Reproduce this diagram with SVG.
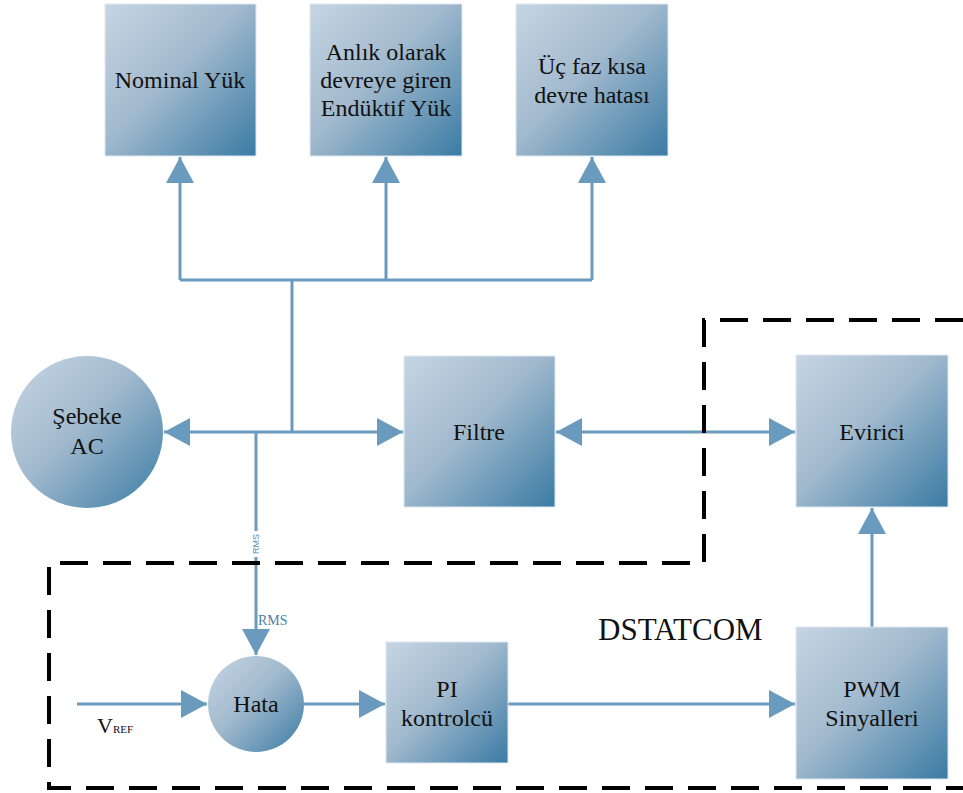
<svg xmlns="http://www.w3.org/2000/svg" width="963" height="793" viewBox="0 0 963 793">
<defs>
<linearGradient id="g" x1="0" y1="0" x2="1" y2="1">
<stop offset="0" stop-color="#c6d5e3"/>
<stop offset="0.45" stop-color="#a2bace"/>
<stop offset="1" stop-color="#3a7ba4"/>
</linearGradient>
<marker id="ah" markerUnits="userSpaceOnUse" markerWidth="27" markerHeight="30" refX="26" refY="15" orient="auto-start-reverse" viewBox="0 0 27 30">
<path d="M0,1 L26,15 L0,29 z" fill="#6a9bbe"/>
</marker>
<style>
.box{fill:url(#g);stroke:#dfe8f0;stroke-width:1}
.t{font-family:Liberation Serif, DejaVu Serif, serif;font-size:24px;fill:#111;text-anchor:middle}
.c{fill:none;stroke:#6a9bbe;stroke-width:3}
.a{marker-end:url(#ah)}
.d{fill:none;stroke:#000;stroke-width:4;stroke-dasharray:28 15}
</style>
</defs>
<g id="connectors">
<path class="c" d="M180,280 H592"/>
<path class="c a" d="M180,280 V157"/>
<path class="c a" d="M386,280 V157"/>
<path class="c a" d="M592,280 V157"/>
<path class="c" d="M292,280 V432"/>
<path class="c a" d="M292,432 H164"/>
<path class="c a" d="M292,432 H403"/>
<path class="c a" d="M256,432 V655"/>
<path class="c a" style="marker-start:url(#ah)" d="M556,432 H795"/>
<path class="c a" d="M77,704 H207"/>
<path class="c a" d="M304,704 H385"/>
<path class="c a" d="M508,704 H795"/>
<path class="c a" d="M872,627 V508"/>
</g>
<g id="boundary">
<path class="d" d="M963,320 H704 V563 H49 V788 H963"/>
</g>
<g id="rms-labels">
<rect x="250" y="531" width="12" height="26" fill="#fff"/>
<text x="0" y="0" transform="translate(259,544) rotate(-90)" font-family="Liberation Sans, DejaVu Sans, sans-serif" font-size="9" fill="#5b8db3" text-anchor="middle">RMS</text>
<text x="258" y="625" font-family="Liberation Serif, DejaVu Serif, serif" font-size="14" fill="#4a7fa8">RMS</text>
</g>
<g id="nominal">
<rect class="box" x="105" y="4" width="151" height="152"/>
<text class="t" x="180" y="88" font-family="Liberation Serif, serif">Nominal Yük</text>
</g>
<g id="anlik">
<rect class="box" x="310" y="4" width="152" height="152"/>
<text class="t" x="386" y="60" font-family="Liberation Serif, serif">Anlık olarak</text>
<text class="t" x="386" y="88" font-family="Liberation Serif, serif">devreye giren</text>
<text class="t" x="386" y="116" font-family="Liberation Serif, serif">Endüktif Yük</text>
</g>
<g id="ucfaz">
<rect class="box" x="516" y="4" width="152" height="152"/>
<text class="t" x="592" y="74" font-family="Liberation Serif, serif">Üç faz kısa</text>
<text class="t" x="592" y="103" font-family="Liberation Serif, serif">devre hatası</text>
</g>
<g id="sebeke">
<circle cx="87" cy="432" r="76" fill="url(#g)"/>
<text class="t" x="87" y="424" font-family="Liberation Serif, serif">Şebeke</text>
<text class="t" x="87" y="454" font-family="Liberation Serif, serif">AC</text>
</g>
<g id="filtre">
<rect class="box" x="404" y="356" width="151" height="151"/>
<text class="t" x="479" y="440" font-family="Liberation Serif, serif">Filtre</text>
</g>
<g id="evirici">
<rect class="box" x="796" y="355" width="152" height="152"/>
<text class="t" x="872" y="440" font-family="Liberation Serif, serif">Evirici</text>
</g>
<g id="hata">
<circle cx="256" cy="704" r="48" fill="url(#g)"/>
<text class="t" x="256" y="712" font-family="Liberation Serif, serif">Hata</text>
</g>
<g id="pi">
<rect class="box" x="386" y="642" width="122" height="121"/>
<text class="t" x="447" y="697" font-family="Liberation Serif, serif">PI</text>
<text class="t" x="447" y="726" font-family="Liberation Serif, serif">kontrolcü</text>
</g>
<g id="pwm">
<rect class="box" x="796" y="627" width="152" height="152"/>
<text class="t" x="872" y="697" font-family="Liberation Serif, serif">PWM</text>
<text class="t" x="872" y="726" font-family="Liberation Serif, serif">Sinyalleri</text>
</g>
<g id="labels">
<text x="598" y="640" font-family="Liberation Serif, DejaVu Serif, serif" font-size="31" fill="#111">DSTATCOM</text>
<text x="97" y="733" font-family="Liberation Serif, DejaVu Serif, serif" font-size="22" fill="#111">V<tspan font-size="11">REF</tspan></text>
</g>
</svg>
